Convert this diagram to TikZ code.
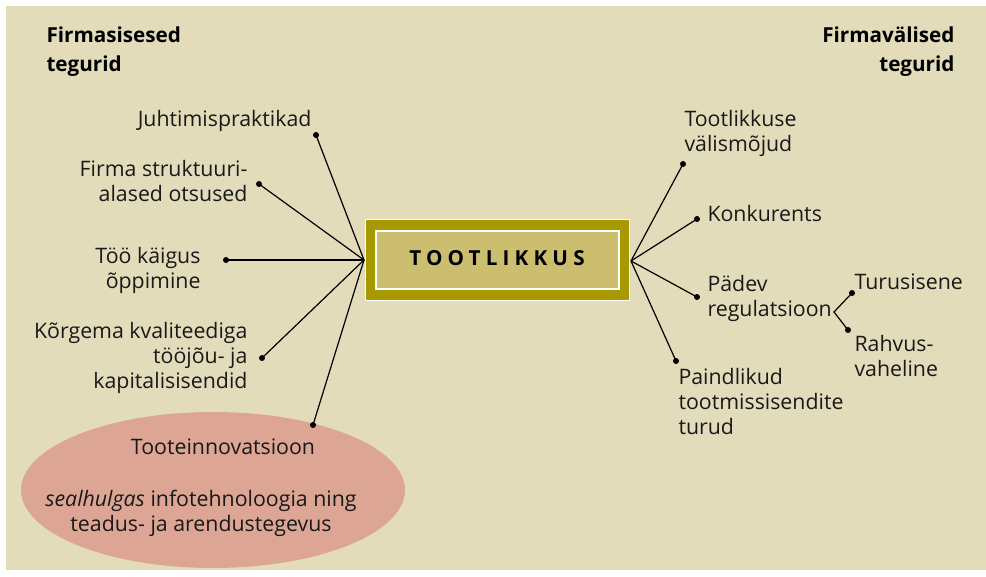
\documentclass[tikz,border=0pt]{standalone}
\usepackage{fontspec}
\setmainfont{Open Sans}
\newfontfamily\spacedfont[LetterSpace=25]{Open Sans}
\usetikzlibrary{positioning}

\definecolor{bgBeige}{RGB}{227,220,186}
\definecolor{boxOlive}{RGB}{169,153,0}
\definecolor{boxKhaki}{RGB}{203,190,110}
\definecolor{ovalRose}{RGB}{221,166,148}

\newcommand{\bodysize}{\fontsize{16}{18.75}\selectfont}
\newcommand{\headsize}{\fontsize{15.5}{21.75}\selectfont\bfseries}

\tikzset{every picture/.style={line width=0.75pt}}
\tikzset{
  lbl/.style={font=\bodysize, inner sep=0pt, text=black!90},
  headlbl/.style={font=\headsize, inner sep=0pt},
  dot/.style={circle, fill=black, inner sep=0pt, minimum size=4.5pt},
  spoke/.style={line width=0.9pt}
}

\begin{document}
\begin{tikzpicture}[x=0.75pt,y=0.75pt,yscale=-1,xscale=1]
            \useasboundingbox (0,0) rectangle (986,577);
            \fill [white] (0,0) rectangle (986,577);

            %Shape: Rectangle (background)
            \fill [bgBeige] (6,6) rectangle (986,570);

            %Shape: Ellipse
            \fill [ovalRose] (213,490) ellipse [x radius=192, y radius=78];

            %Shape: Rectangle (centre box)
            \draw [draw=white, line width=0.6, fill=boxOlive] (365,219) rectangle (629,300);
            \draw [draw=white, line width=1, fill=boxKhaki] (376,231) rectangle (619,289);

            % Text Node
            \node (prod) at (497,265.7) [anchor=base, inner sep=0pt] {\fontsize{15.5}{18}\spacedfont\bfseries TOOTLIKKUS};

            % hubs
            \coordinate (hubL) at (364,260);
            \coordinate (hubR) at (631,261);

            % Text Node (base = last line)
            \node (headIn) at (46,71.7) [headlbl, anchor=base west, align=left] {Firmasisesed\\tegurid};
            % Text Node
            \node (headOut) at (955,71.7) [headlbl, anchor=base east, align=right] {Firmavälised\\tegurid};

            % left side
            \node (juht) at (312,127) [lbl, anchor=base east] {Juhtimispraktikad};
            \node (firma) at (248,201.7) [lbl, anchor=base east, align=right] {Firma struktuuri-\\alased otsused};
            \node (opp) at (201,289) [lbl, anchor=base east, align=right] {Töö käigus\\õppimine};
            \node (korg) at (248,388) [lbl, anchor=base east, align=right] {Kõrgema kvaliteediga\\tööjõu- ja\\kapitalisisendid};
            \node (innov) at (223,454.3) [lbl, anchor=base] {Tooteinnovatsioon};
            \node (innovSub) at (201,531) [lbl, anchor=base, align=center] {\textit{sealhulgas} infotehnoloogia ning\\teadus- ja arendustegevus};

            \node (dJuht) at (316,135) [dot] {};
            \node (dFirma) at (259,184) [dot] {};
            \node (dOpp) at (226,260) [dot] {};
            \node (dKorg) at (262,358) [dot] {};
            \node (dInnov) at (313,425) [dot] {};

            %Straight Lines
            \foreach \d in {dJuht,dFirma,dOpp,dKorg,dInnov}
              \draw [spoke] (hubL) -- (\d.center);

            % right side
            \node (valis) at (684,151.7) [lbl, anchor=base west, align=left] {Tootlikkuse\\välismõjud};
            \node (konk) at (707,221.7) [lbl, anchor=base west] {Konkurents};
            \node (padev) at (707,317) [lbl, anchor=base west, align=left] {Pädev\\regulatsioon};
            \node (paind) at (678,435) [lbl, anchor=base west, align=left] {Paindlikud\\tootmissisendite\\turud};
            \node (turu) at (854,290) [lbl, anchor=base west] {Turusisene};
            \node (rahv) at (854,376.7) [lbl, anchor=base west, align=left] {Rahvus-\\vaheline};

            \node (dValis) at (683,164) [dot] {};
            \node (dKonk) at (697,219) [dot] {};
            \node (dPadev) at (697,297) [dot] {};
            \node (dPaind) at (676,361) [dot] {};

            %Straight Lines
            \foreach \d in {dValis,dKonk,dPadev,dPaind}
              \draw [spoke] (hubR) -- (\d.center);

            % sub branch
            \coordinate (fork) at (834,312);
            \node (dTuru) at (852,293) [dot] {};
            \node (dRahv) at (848,330) [dot] {};
            \draw [spoke] (dTuru.center) -- (fork) -- (dRahv.center);

\end{tikzpicture}
\end{document}
